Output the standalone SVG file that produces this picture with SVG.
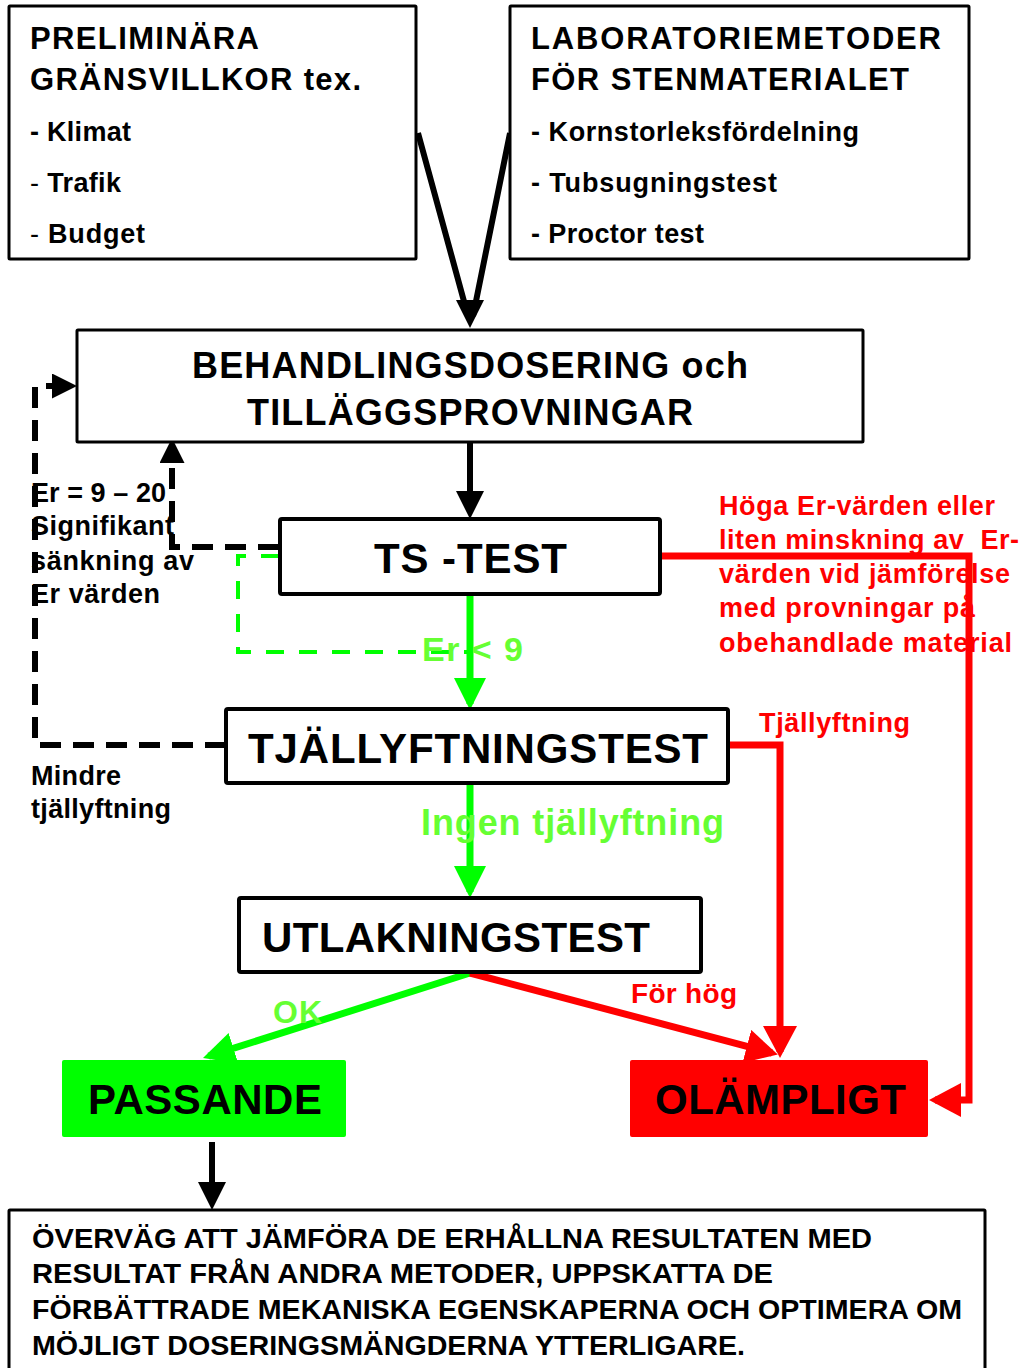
<svg xmlns="http://www.w3.org/2000/svg" width="1026" height="1368" viewBox="0 0 1026 1368">
<style>
.t{font-family:"Liberation Sans",Arial,sans-serif;font-weight:bold;fill:#000}
.box{fill:#fff;stroke:#000;stroke-width:3}
.box4{fill:#fff;stroke:#000;stroke-width:4}
.red{fill:#ff0000}
.grn{fill:#66ff33}
.blk{fill:none;stroke:#000;stroke-width:6}
.blkd{fill:none;stroke:#000;stroke-width:6;stroke-dasharray:21 12}
.grnl{fill:none;stroke:#00ff00;stroke-width:7}
.grnd{fill:none;stroke:#00ff00;stroke-width:4;stroke-dasharray:18 15}
.redl{fill:none;stroke:#ff0000;stroke-width:7}
</style>
<defs>
<marker id="aBlk" viewBox="0 0 28 28" markerWidth="28" markerHeight="28" refX="22" refY="14" orient="auto" markerUnits="userSpaceOnUse"><path d="M0 0L28 14L0 28Z" fill="#000"/></marker>
<marker id="aBlkS" viewBox="0 0 25 25" markerWidth="25" markerHeight="25" refX="19" refY="12.5" orient="auto" markerUnits="userSpaceOnUse"><path d="M0 0L25 12.5L0 25Z" fill="#000"/></marker>
<marker id="aGrn" viewBox="0 0 32 32" markerWidth="32" markerHeight="32" refX="26" refY="16" orient="auto" markerUnits="userSpaceOnUse"><path d="M0 0L32 16L0 32Z" fill="#00ff00"/></marker>
<marker id="aRed" viewBox="0 0 32 34" markerWidth="32" markerHeight="34" refX="26" refY="17" orient="auto" markerUnits="userSpaceOnUse"><path d="M0 0L32 17L0 34Z" fill="#ff0000"/></marker>
</defs>
<rect width="1026" height="1368" fill="#fff"/>

<g id="connectors">
<path class="blk" d="M418 133L468 316M510 133L473 316"/>
<path class="blk" d="M470 300V322" marker-end="url(#aBlk)"/>
<path class="blk" d="M470 443V513" marker-end="url(#aBlk)"/>
<path class="blkd" d="M279 547H172V444" marker-end="url(#aBlkS)"/>
<path class="blkd" d="M226 745H35V386H71" marker-end="url(#aBlkS)"/>
<path class="grnd" d="M279 556H238V652H470"/>
<path class="grnl" d="M470 594V704" marker-end="url(#aGrn)"/>
<path class="grnl" d="M470 783V892" marker-end="url(#aGrn)"/>
<path class="redl" d="M660 556H969V1100H935" marker-end="url(#aRed)"/>
<path class="redl" d="M728 745H780V1052" marker-end="url(#aRed)"/>
<path class="grnl" d="M470 973L208.7 1056.2" marker-end="url(#aGrn)"/>
<path class="redl" d="M470 973L772 1053" marker-end="url(#aRed)"/>
<path class="blk" d="M212 1142V1204" marker-end="url(#aBlk)"/>
</g>

<g id="node-preliminara">
<rect class="box" x="9" y="6" width="407" height="253" rx="1"/>
<text class="t" x="30" y="49" font-size="31" textLength="229">PRELIMINÄRA</text>
<text class="t" x="30" y="90" font-size="31" textLength="331">GRÄNSVILLKOR tex.</text>
<text class="t" x="30" y="141" font-size="27" textLength="101">- Klimat</text>
<text class="t" x="30" y="192" font-size="27" textLength="91"><tspan font-weight="normal">-</tspan> Trafik</text>
<text class="t" x="30" y="243" font-size="27" textLength="115"><tspan font-weight="normal">-</tspan> Budget</text>
</g>

<g id="node-laboratoriemetoder">
<rect class="box" x="510" y="6" width="459" height="253" rx="1"/>
<text class="t" x="531" y="49" font-size="31" textLength="410">LABORATORIEMETODER</text>
<text class="t" x="531" y="90" font-size="31" textLength="378">FÖR STENMATERIALET</text>
<text class="t" x="531" y="141" font-size="27" textLength="328">- Kornstorleksfördelning</text>
<text class="t" x="531" y="192" font-size="27" textLength="246">- Tubsugningstest</text>
<text class="t" x="531" y="243" font-size="27" textLength="173">- Proctor test</text>
</g>

<g id="node-behandling">
<rect class="box" x="77" y="330" width="786" height="112" rx="1"/>
<text class="t" x="192" y="378" font-size="36" textLength="556">BEHANDLINGSDOSERING och</text>
<text class="t" x="247" y="425" font-size="36" textLength="446">TILLÄGGSPROVNINGAR</text>
</g>

<g id="node-tstest">
<rect class="box4" x="280" y="519" width="380" height="75" rx="2"/>
<text class="t" x="374" y="573" font-size="42" textLength="193">TS -TEST</text>
</g>

<g id="node-tjallyftningstest">
<rect class="box4" x="226" y="709" width="502" height="74" rx="2"/>
<text class="t" x="248" y="763" font-size="42" textLength="460">TJÄLLYFTNINGSTEST</text>
</g>

<g id="node-utlakningstest">
<rect class="box4" x="239" y="898" width="462" height="74" rx="2"/>
<text class="t" x="262" y="952" font-size="42" textLength="388">UTLAKNINGSTEST</text>
</g>

<g id="node-passande">
<rect x="62" y="1060" width="284" height="77" rx="2" fill="#00ff00"/>
<text class="t" x="88" y="1114" font-size="42" textLength="234">PASSANDE</text>
</g>

<g id="node-olampligt">
<rect x="630" y="1060" width="298" height="77" rx="2" fill="#ff0000"/>
<text class="t" x="655" y="1114" font-size="42" textLength="251">OLÄMPLIGT</text>
</g>

<g id="node-overvag">
<rect class="box" x="9" y="1210" width="976" height="175" rx="1"/>
<text class="t" x="32" y="1248" font-size="28" textLength="840" lengthAdjust="spacingAndGlyphs">ÖVERVÄG ATT JÄMFÖRA DE ERHÅLLNA RESULTATEN MED</text>
<text class="t" x="32" y="1283" font-size="28" textLength="741" lengthAdjust="spacingAndGlyphs">RESULTAT FRÅN ANDRA METODER, UPPSKATTA DE</text>
<text class="t" x="32" y="1319" font-size="28" textLength="930" lengthAdjust="spacingAndGlyphs">FÖRBÄTTRADE MEKANISKA EGENSKAPERNA OCH OPTIMERA OM</text>
<text class="t" x="32" y="1355" font-size="28" textLength="713" lengthAdjust="spacingAndGlyphs">MÖJLIGT DOSERINGSMÄNGDERNA YTTERLIGARE.</text>
</g>

<g id="labels">
<text class="t" x="31" y="502" font-size="27" textLength="135">Er = 9 – 20</text>
<text class="t" x="31" y="535" font-size="27" textLength="143">Signifikant</text>
<text class="t" x="31" y="570" font-size="27" textLength="163">sänkning av</text>
<text class="t" x="31" y="603" font-size="27" textLength="129">Er värden</text>
<text class="t" x="31" y="785" font-size="27" textLength="90">Mindre</text>
<text class="t" x="31" y="818" font-size="27" textLength="140">tjällyftning</text>
<text class="t grn" x="422" y="661" font-size="34" textLength="101">Er &lt; 9</text>
<text class="t grn" x="421" y="835" font-size="36" textLength="303">Ingen tjällyftning</text>
<text class="t grn" x="273" y="1023" font-size="32" textLength="49">OK</text>
<text class="t red" x="631" y="1003" font-size="28" textLength="106">För hög</text>
<text class="t red" x="759" y="732" font-size="27" textLength="151">Tjällyftning</text>
<text class="t red" x="719" y="515" font-size="27" textLength="276">Höga Er-värden eller</text>
<text class="t red" x="719" y="549" font-size="27" textLength="300" xml:space="preserve">liten minskning av  Er-</text>
<text class="t red" x="719" y="583" font-size="27" textLength="291">värden vid jämförelse</text>
<text class="t red" x="719" y="617" font-size="27" textLength="256">med provningar på</text>
<text class="t red" x="719" y="652" font-size="27" textLength="293">obehandlade material</text>
</g>
</svg>
